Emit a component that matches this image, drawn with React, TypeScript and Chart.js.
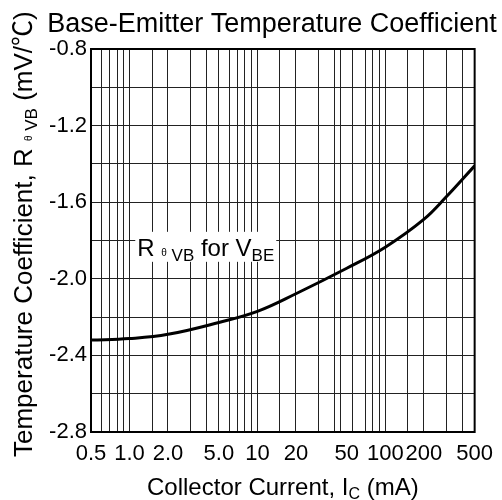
import React, { useEffect, useRef } from 'react';
import { Chart, registerables } from 'chart.js';

Chart.register(...registerables);

// ---- data ----
const currentMA = [0.5, 1, 2, 5, 10, 20, 50, 100, 200, 300, 500];
const tempCoeff = [-2.32, -2.312, -2.29, -2.228, -2.17, -2.078, -1.945, -1.835, -1.69, -1.572, -1.41];

const xTickValues = [0.5, 1, 2, 5, 10, 20, 50, 100, 200, 500];
const xTickLabels = ['0.5', '1.0', '2.0', '5.0', '10', '20', '50', '100', '200', '500'];
const xGridValues = [0.5, 0.6, 0.7, 0.8, 0.9, 1, 1.5, 2, 3, 4, 5, 6, 7, 8, 9, 10, 15, 20, 30, 40, 45, 55, 70, 80, 90, 100, 150, 200, 300, 400, 500];

const yMin = -2.8;
const yMax = -0.8;
const yStep = 0.2;
const yLabelValues = [-0.8, -1.2, -1.6, -2.0, -2.4, -2.8];

const chartTitle = 'Base-Emitter Temperature Coefficient';
const annotX = 1.15;
const annotY = -1.88;

const FONT = 'Arial, "Liberation Sans", sans-serif';
const CJK = '"Noto Sans CJK SC", Arial, sans-serif';

type Seg = { t: string; s: number; dy?: number; f?: string };

function drawRich(ctx: CanvasRenderingContext2D, segs: Seg[], x: number, y: number, align: 'left' | 'center') {
  let total = 0;
  const widths = segs.map((sg) => {
    ctx.font = `${sg.s}px ${sg.f || FONT}`;
    const w = ctx.measureText(sg.t).width;
    total += w;
    return w;
  });
  let cx = align === 'center' ? x - total / 2 : x;
  ctx.textAlign = 'left';
  ctx.textBaseline = 'alphabetic';
  segs.forEach((sg, i) => {
    ctx.font = `${sg.s}px ${sg.f || FONT}`;
    ctx.fillText(sg.t, cx, y + (sg.dy || 0));
    cx += widths[i];
  });
  return total;
}

const decorPlugin = {
  id: 'decor',
  beforeDatasetsDraw(chart: any) {
    const ctx: CanvasRenderingContext2D = chart.ctx;
    const xs = chart.scales.x;
    const ys = chart.scales.y;
    const ax = xs.getPixelForValue(annotX);
    const ay = ys.getPixelForValue(annotY);
    const segs: Seg[] = [
      { t: 'R ', s: 24 },
      { t: 'θ', s: 10 },
      { t: ' VB', s: 17, dy: 5 },
      { t: ' for V', s: 24 },
      { t: 'BE', s: 17, dy: 5 },
    ];
    ctx.save();
    let total = 0;
    segs.forEach((sg) => {
      ctx.font = `${sg.s}px ${FONT}`;
      total += ctx.measureText(sg.t).width;
    });
    ctx.fillStyle = '#fff';
    ctx.fillRect(ax - 2, ay - 24, total + 4, 30);
    ctx.fillStyle = '#000';
    drawRich(ctx, segs, ax, ay, 'left');
    ctx.restore();
  },
  afterDraw(chart: any) {
    const ctx: CanvasRenderingContext2D = chart.ctx;
    const a = chart.chartArea;
    ctx.save();
    ctx.strokeStyle = '#000';
    ctx.lineWidth = 2;
    ctx.strokeRect(a.left, a.top, a.right - a.left, a.bottom - a.top);
    ctx.fillStyle = '#000';
    // title
    drawRich(ctx, [{ t: chartTitle, s: 27 }], 272, 32, 'center');
    // x title
    drawRich(
      ctx,
      [
        { t: 'Collector Current, I', s: 24 },
        { t: 'C', s: 16, dy: 4 },
        { t: ' (mA)', s: 24 },
      ],
      (a.left + a.right) / 2,
      495,
      'center'
    );
    // y title
    ctx.translate(32, 457);
    ctx.rotate(-Math.PI / 2);
    drawRich(
      ctx,
      [
        { t: 'Temperature Coefficient, R ', s: 26 },
        { t: 'θ', s: 10 },
        { t: ' VB', s: 17, dy: 5 },
        { t: ' (mV/', s: 26 },
        { t: '℃', s: 26, f: CJK },
        { t: ')', s: 26 },
      ],
      0,
      0,
      'left'
    );
    ctx.restore();
  },
};

export default function App() {
  const ref = useRef<HTMLCanvasElement | null>(null);

  useEffect(() => {
    if (!ref.current) return;
    const allX = Array.from(new Set([...xGridValues, ...xTickValues])).sort((a, b) => a - b);
    const chart = new Chart(ref.current, {
      type: 'line',
      data: {
        datasets: [
          {
            label: 'RθVB for VBE',
            data: currentMA.map((x, i) => ({ x, y: tempCoeff[i] })),
            borderColor: '#000',
            borderWidth: 3,
            pointRadius: 0,
            fill: false,
            tension: 0.4,
          },
        ],
      },
      options: {
        animation: false,
        responsive: false,
        devicePixelRatio: 1,
        layout: { padding: { top: 49, right: 26, left: 0, bottom: 0 } },
        plugins: {
          legend: { display: false },
          tooltip: { enabled: false },
          title: { display: false },
        },
        scales: {
          x: {
            type: 'logarithmic',
            min: 0.5,
            max: 500,
            afterBuildTicks: (scale: any) => {
              scale.ticks = allX.map((v) => ({ value: v }));
            },
            afterFit: (scale: any) => {
              scale.height = 68;
            },
            grid: {
              drawTicks: false,
              lineWidth: 1,
              color: (c: any) =>
                c.tick && xGridValues.includes(c.tick.value) ? '#222' : 'rgba(0,0,0,0)',
            },
            border: { display: false },
            ticks: {
              autoSkip: false,
              maxRotation: 0,
              minRotation: 0,
              padding: 9,
              color: '#000',
              font: { family: FONT, size: 22 },
              callback: (v: any) => {
                const i = xTickValues.findIndex((t) => Math.abs(t - Number(v)) < 1e-9);
                return i >= 0 ? xTickLabels[i] : '';
              },
            },
          },
          y: {
            type: 'linear',
            min: yMin,
            max: yMax,
            afterFit: (scale: any) => {
              scale.width = 91;
            },
            grid: { drawTicks: false, lineWidth: 1, color: '#222' },
            border: { display: false },
            ticks: {
              stepSize: yStep,
              padding: 4,
              color: '#000',
              font: { family: FONT, size: 22 },
              callback: (v: any) => {
                const n = Number(v);
                return yLabelValues.some((l) => Math.abs(l - n) < 1e-6) ? n.toFixed(1) : '';
              },
            },
          },
        },
      },
      plugins: [decorPlugin],
    } as any);
    return () => chart.destroy();
  }, []);

  return (
    <div style={{ position: 'fixed', left: 0, top: 0, width: 502, height: 500, background: '#fff' }}>
      <canvas ref={ref} width={502} height={500} style={{ width: 502, height: 500, display: 'block' }} />
    </div>
  );
}
